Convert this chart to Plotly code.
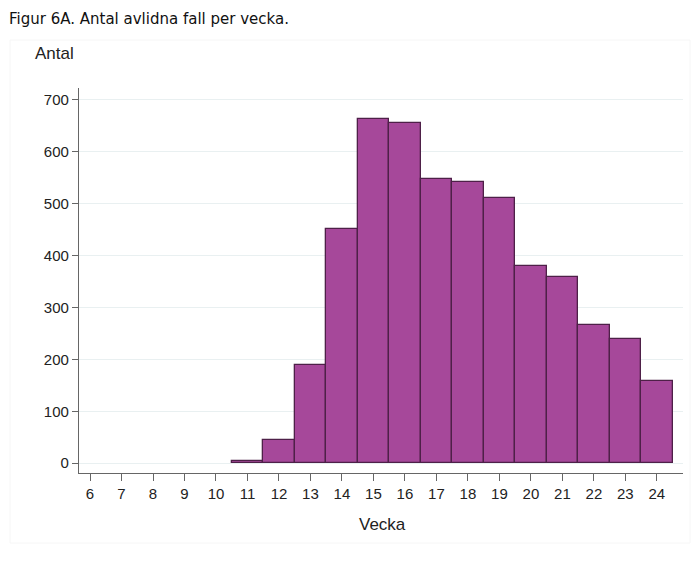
import plotly.graph_objects as go

weeks = [11, 12, 13, 14, 15, 16, 17, 18, 19, 20, 21, 22, 23, 24]
antal = [4, 44, 189, 451, 663, 656, 548, 542, 511, 380, 359, 266, 239, 158]
x_ticks = list(range(6, 25))
y_ticks = [0, 100, 200, 300, 400, 500, 600, 700]

W, H = 700, 564
L, R, T, B = 79, 17, 88, 91

fig = go.Figure()
fig.add_trace(go.Bar(
    x=weeks, y=antal, width=1,
    marker=dict(color="#a6489a", line=dict(color="#4e2048", width=1.3)),
    hoverinfo="x+y",
))

fig.update_layout(
    width=W, height=H,
    margin=dict(l=L, r=R, t=T, b=B),
    paper_bgcolor="white", plot_bgcolor="white",
    showlegend=False, bargap=0,
    font=dict(family="Liberation Sans, Arial, sans-serif", size=15, color="#222222"),
)
fig.update_xaxes(
    range=[5.65, 24.83], tickvals=x_ticks, ticktext=[str(v) for v in x_ticks],
    showgrid=False, zeroline=False,
    showline=True, linecolor="#666666", linewidth=1.3,
    ticks="outside", ticklen=7, tickcolor="#666666", tickwidth=1.3,
    tickfont=dict(size=15, color="#222222"),
)
fig.update_yaxes(
    range=[-19, 723], tickvals=y_ticks,
    showgrid=True, gridcolor="#e9f0f1", gridwidth=1, zeroline=False,
    showline=True, linecolor="#666666", linewidth=1.3,
    ticks="outside", ticklen=6, tickcolor="#666666", tickwidth=1.3,
    tickfont=dict(size=15, color="#222222"),
)

# faint outer frame
fig.add_shape(type="rect", xref="paper", yref="paper",
              x0=(10 - L) / (W - L - R), x1=(690 - L) / (W - L - R),
              y0=(H - B - 543) / (H - T - B), y1=(H - B - 40) / (H - T - B),
              line=dict(color="#f6f6f6", width=1), layer="below")

fig.add_annotation(text="Figur 6A. Antal avlidna fall per vecka.", xref="paper", yref="paper",
                   x=-(L - 7) / (W - L - R), y=1 + (T - 19) / (H - T - B),
                   xanchor="left", yanchor="middle", showarrow=False,
                   font=dict(family="DejaVu Sans, Verdana, sans-serif", size=15, color="#111111"))
fig.add_annotation(text="Antal", xref="paper", yref="paper",
                   x=-(L - 33) / (W - L - R), y=1 + (T - 54) / (H - T - B),
                   xanchor="left", yanchor="middle", showarrow=False,
                   font=dict(size=17, color="#222222"))
fig.add_annotation(text="Vecka", xref="paper", yref="paper",
                   x=(382 - L) / (W - L - R), y=-(524 - (H - B)) / (H - T - B),
                   xanchor="center", yanchor="middle", showarrow=False,
                   font=dict(size=17, color="#222222"))

fig.write_html("out.html")
